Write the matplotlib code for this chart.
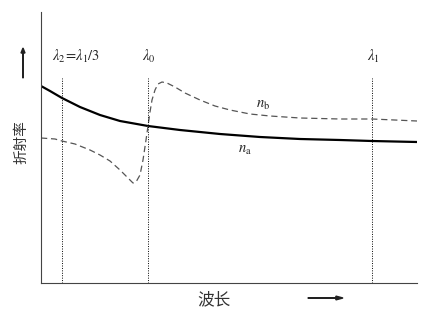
import matplotlib
matplotlib.use("Agg")
from matplotlib import pyplot as plt
from matplotlib.patches import FancyArrow

plt.rcParams['font.family'] = ['Noto Sans CJK SC', 'DejaVu Sans']
plt.rcParams['mathtext.fontset'] = 'stix'

# wavelength positions (arbitrary units) and refractive index curves (arbitrary units)
na_x = [0, 9, 21, 39, 59, 79, 107, 139, 179, 219, 259, 299, 331, 376]
na_y = [197, 192, 185, 176, 168, 162, 157, 153, 149, 146, 144, 143, 142, 141]

nb_x = [0, 14, 21, 34, 49, 59, 69, 79, 87, 92, 95, 99, 102, 105, 107, 109, 111,
        114, 117, 121, 126, 134, 144, 159, 174, 189, 209, 229, 259, 299, 331, 376]
nb_y = [145, 144, 142, 139, 133, 128, 122, 113, 105, 100, 101, 108, 123, 143, 157,
        171, 183, 193, 199, 201, 200, 196, 190, 183, 177, 173, 169, 167, 165, 164, 164, 162]

marks = [21, 107, 331]
mark_labels = [r'$\lambda_2\!=\!\lambda_1/3$', r'$\lambda_0$', r'$\lambda_1$']

fig = plt.figure(figsize=(4.45, 3.15), dpi=100)
ax = fig.add_axes([41 / 445, 32 / 315, 376 / 445, 271 / 315])

ax.plot(na_x, na_y, color='black', lw=1.6)
ax.plot(nb_x, nb_y, color='#555555', lw=0.9, ls=(0, (5, 3)))

for x in marks:
    ax.plot([x, x], [0, 205], color='black', lw=0.7, ls=(0, (1, 1.5)))

ax.text(11, 227, mark_labels[0], fontsize=10.5, ha='left', va='center', color='#222222')
ax.text(108, 227, mark_labels[1], fontsize=10.5, ha='center', va='center', color='#222222')
ax.text(332, 227, mark_labels[2], fontsize=10.5, ha='center', va='center', color='#222222')

ax.text(222, 178, r'$n_\mathrm{b}$', fontsize=10.5, ha='center', va='center', color='#222222')
ax.text(204, 133, r'$n_\mathrm{a}$', fontsize=10.5, ha='center', va='center', color='#222222')

ax.set_xlim(0, 376)
ax.set_ylim(0, 271)
ax.set_xticks([])
ax.set_yticks([])
for s in ['top', 'right']:
    ax.spines[s].set_visible(False)
for s in ['left', 'bottom']:
    ax.spines[s].set_color('#444444')
    ax.spines[s].set_linewidth(0.8)

fig.text(21 / 445, 1 - 142 / 315, '折射率', rotation=90, fontsize=10.5,
         ha='center', va='center', color='#333333')
fig.text(214 / 445, 1 - 300 / 315, '波长', fontsize=12,
         ha='center', va='center', color='#333333')

fig.patches.append(FancyArrow(
    23 / 445, 1 - 78 / 315, 0, 30 / 315, width=0.0004, head_width=0.009,
    head_length=0.016, length_includes_head=True, color='#222222',
    transform=fig.transFigure, figure=fig))
fig.patches.append(FancyArrow(
    308 / 445, 1 - 298 / 315, 35 / 445, 0, width=0.0012, head_width=0.012,
    head_length=0.016, length_includes_head=True, color='#222222',
    transform=fig.transFigure, figure=fig))

fig.savefig('out.png', dpi=100)
